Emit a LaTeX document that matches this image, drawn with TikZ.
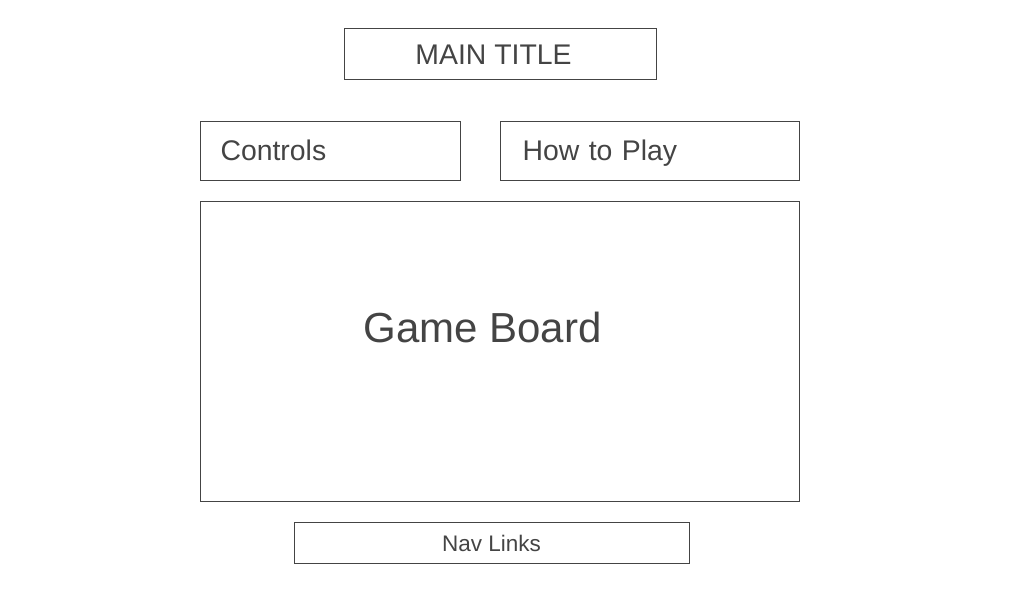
\documentclass[tikz,border=0pt]{standalone}
\usepackage{fontspec}
\setmainfont{Liberation Sans}
\usepackage{tikz}

\definecolor{ink}{HTML}{444444}

\begin{document}
\begin{tikzpicture}[x=1pt, y=-1pt, line width=1pt, text=ink,
  box/.style = {draw=ink, rectangle, inner sep=0pt, outer sep=0pt},
  big/.style = {font=\fontsize{28.4}{32}\selectfont, text height=19, text depth=1},
  huge/.style = {font=\fontsize{42}{48}\selectfont},
  small/.style = {font=\fontsize{22.5}{26}\selectfont}]
\useasboundingbox (0,0) rectangle (1024,600);
\node[box, minimum width=312, minimum height=51,
  label={[big, xshift=-7, yshift=-1.5]center:MAIN TITLE}] (title) at (500.5,54) {};
\node[box, big, minimum width=260, minimum height=59, text width=220,
  inner xsep=20, align=left] (controls) at (330.5,151) {Controls};
\node[box, big, minimum width=299, minimum height=59, text width=255,
  inner xsep=22, align=left] (howto) at (650,151) {How to Play};
\node[box, minimum width=599, minimum height=300,
  label={[huge, xshift=-17.5, yshift=24]center:Game Board}] (board) at (500,351.5) {};
\node[box, small, minimum width=395, minimum height=41] (nav) at (491.5,543) {Nav Links};
\end{tikzpicture}
\end{document}
